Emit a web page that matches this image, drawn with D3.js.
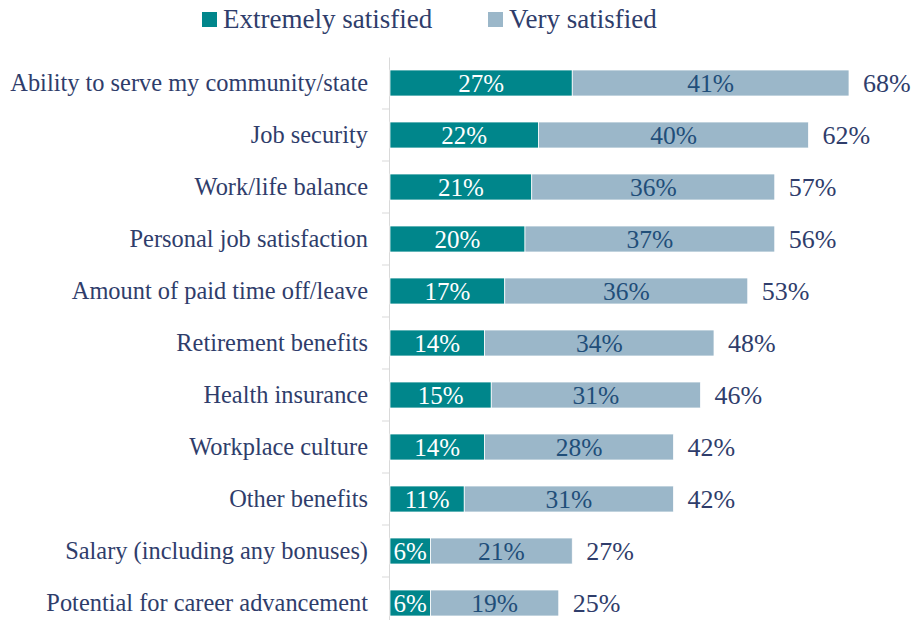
<!DOCTYPE html>
<html>
<head>
<meta charset="utf-8">
<script src="https://cdn.jsdelivr.net/npm/d3@7/dist/d3.min.js"></script>
<style>
  html, body { margin: 0; padding: 0; background: #fff; }
  svg { display: block; font-family: "Liberation Serif", "Times New Roman", serif; }
</style>
</head>
<body>
<svg id="chart" width="914" height="620"></svg>
<script>
const categories = [
  "Ability to serve my community/state",
  "Job security",
  "Work/life balance",
  "Personal job satisfaction",
  "Amount of paid time off/leave",
  "Retirement benefits",
  "Health insurance",
  "Workplace culture",
  "Other benefits",
  "Salary (including any bonuses)",
  "Potential for career advancement"
];
const extremely = [27, 22, 21, 20, 17, 14, 15, 14, 11, 6, 6];
const very      = [41, 40, 36, 37, 36, 34, 31, 28, 31, 21, 19];
const totals    = [68, 62, 57, 56, 53, 48, 46, 42, 42, 27, 25];
const seriesNames = ["Extremely satisfied", "Very satisfied"];

const colors = { extremely: "#00868B", very: "#9BB7C9" };
const textDark = "#2F3D6B";
const textBlue = "#1F4E79";
const serif = "Liberation Serif, Times New Roman, serif";

const svg = d3.select("#chart");
const x0 = 390;
const x = d3.scaleLinear().domain([0, 68]).range([x0, 849]);
const y = d3.scaleBand().domain(categories).range([57, 629]).padding(0.5).paddingOuter(0.25);

// category axis
const axis = d3.axisLeft(y).tickSize(0).tickPadding(21);
const gAxis = svg.append("g").attr("transform", `translate(${x0 - 1},0)`).call(axis);
gAxis.attr("font-family", serif);
gAxis.select(".domain").attr("stroke", "#D9D9D9");
gAxis.selectAll("text")
  .attr("font-family", serif)
  .attr("font-size", 24.4)
  .attr("fill", textDark);

// small separator ticks between categories
const step = y.step();
svg.append("g").selectAll("line")
  .data(categories.slice(1))
  .join("line")
  .attr("x1", x0 - 8).attr("x2", x0 - 1)
  .attr("y1", d => y(d) - (step - y.bandwidth()) / 2)
  .attr("y2", d => y(d) - (step - y.bandwidth()) / 2)
  .attr("stroke", "#D9D9D9");

const rows = categories.map((c, i) => ({ c, e: extremely[i], v: very[i], t: totals[i] }));

const g = svg.append("g").attr("font-family", serif);
// extremely satisfied segments
g.selectAll("rect.e").data(rows).join("rect")
  .attr("class", "e")
  .attr("x", x(0))
  .attr("y", d => y(d.c))
  .attr("width", d => x(d.e) - x(0))
  .attr("height", y.bandwidth())
  .attr("fill", colors.extremely)
  .attr("stroke", "#fff").attr("stroke-width", 0.75);
// very satisfied segments
g.selectAll("rect.v").data(rows).join("rect")
  .attr("class", "v")
  .attr("x", d => x(d.e))
  .attr("y", d => y(d.c))
  .attr("width", d => x(d.e + d.v) - x(d.e))
  .attr("height", y.bandwidth())
  .attr("fill", colors.very)
  .attr("stroke", "#fff").attr("stroke-width", 0.75);

// segment labels
g.selectAll("text.el").data(rows).join("text")
  .attr("class", "el")
  .attr("x", d => (x(0) + x(d.e)) / 2)
  .attr("y", d => y(d.c) + y.bandwidth() / 2)
  .attr("dy", "0.35em")
  .attr("text-anchor", "middle")
  .attr("font-size", 25)
  .attr("fill", "#fff")
  .text(d => d.e + "%");
g.selectAll("text.vl").data(rows).join("text")
  .attr("class", "vl")
  .attr("x", d => (x(d.e) + x(d.e + d.v)) / 2)
  .attr("y", d => y(d.c) + y.bandwidth() / 2)
  .attr("dy", "0.35em")
  .attr("text-anchor", "middle")
  .attr("font-size", 25.5)
  .attr("fill", textBlue)
  .text(d => d.v + "%");
// total labels
g.selectAll("text.tl").data(rows).join("text")
  .attr("class", "tl")
  .attr("x", d => x(d.e + d.v) + 14)
  .attr("y", d => y(d.c) + y.bandwidth() / 2)
  .attr("dy", "0.35em")
  .attr("font-size", 26)
  .attr("fill", textDark)
  .text(d => d.t + "%");

// legend
const legend = svg.append("g").attr("font-family", serif);
const legendItems = [
  { name: seriesNames[0], color: colors.extremely, x: 202 },
  { name: seriesNames[1], color: colors.very, x: 488 }
];
legendItems.forEach(it => {
  legend.append("rect").attr("x", it.x).attr("y", 12).attr("width", 15).attr("height", 15).attr("fill", it.color);
  legend.append("text").attr("x", it.x + 21).attr("y", 19).attr("dy", "0.35em")
    .attr("font-size", 27).attr("fill", textDark).text(it.name);
});
</script>
</body>
</html>
